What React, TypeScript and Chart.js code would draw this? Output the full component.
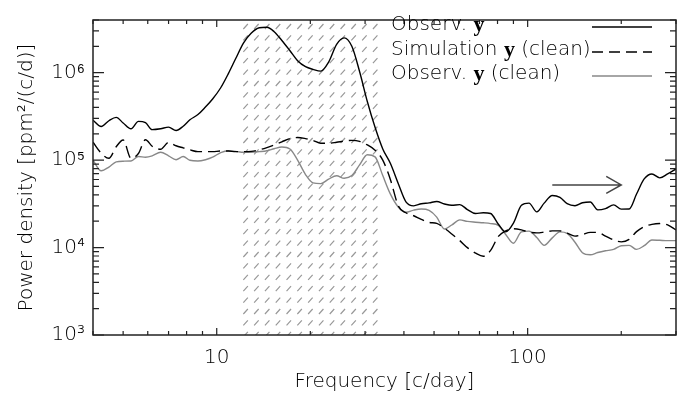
import React, { useEffect, useRef } from 'react';
import { Chart, registerables } from 'chart.js';

Chart.register(...registerables);

// ---- data (frequency in c/day, power density in ppm^2/(c/d)) ----
const frequencies = [
  4, 4.25, 4.5, 4.75, 5, 5.3, 5.6, 5.9, 6.2, 6.6, 7, 7.4, 7.8, 8.2, 8.7, 9.2, 9.7, 10.3, 10.9, 11.5,
  12.2, 12.9, 13.7, 14.5, 15.3, 16.2, 17.2, 18.2, 19.3, 20.4, 21.6, 22.9, 24.3, 25.7, 27.2, 28.8, 30.5,
  32.3, 34.2, 36.2, 38.4, 40.6, 43, 45.5, 48.2, 51, 54, 57, 60.5, 64, 68, 72, 76, 80.5, 85, 90, 95.5,
  101, 107, 113, 120, 127, 134, 142, 150, 159, 168, 178, 189, 200, 212, 224, 237, 251, 266, 282, 300,
];

const observPower = [
  2.86e5, 2.42e5, 2.82e5, 3.08e5, 2.66e5, 2.28e5, 2.77e5, 2.68e5, 2.23e5, 2.28e5, 2.38e5, 2.18e5, 2.44e5,
  2.89e5, 3.32e5, 4.05e5, 4.99e5, 6.72e5, 9.75e5, 1.44e6, 2.19e6, 2.82e6, 3.26e6, 3.31e6, 2.94e6, 2.33e6,
  1.78e6, 1.37e6, 1.17e6, 1.09e6, 1.04e6, 1.32e6, 2.11e6, 2.5e6, 2.0e6, 1.03e6, 4.68e5, 2.37e5, 1.34e5,
  9.13e4, 5.33e4, 3.33e4, 3.0e4, 3.17e4, 3.24e4, 3.36e4, 3.15e4, 3.04e4, 3.1e4, 2.72e4, 2.45e4, 2.5e4,
  2.45e4, 1.85e4, 1.51e4, 1.9e4, 3.04e4, 3.22e4, 2.56e4, 3.22e4, 3.94e4, 3.75e4, 3.17e4, 3.01e4, 3.25e4,
  3.32e4, 2.7e4, 2.79e4, 3.08e4, 2.75e4, 2.76e4, 4.09e4, 6.09e4, 6.94e4, 6.26e4, 6.94e4, 7.93e4,
];

const simCleanPower = [
  1.6e5, 1.2e5, 1.05e5, 1.42e5, 1.7e5, 1.05e5, 1.19e5, 1.71e5, 1.44e5, 1.33e5, 1.59e5, 1.46e5, 1.38e5,
  1.31e5, 1.25e5, 1.25e5, 1.25e5, 1.27e5, 1.27e5, 1.25e5, 1.25e5, 1.26e5, 1.31e5, 1.39e5, 1.49e5, 1.62e5,
  1.76e5, 1.81e5, 1.76e5, 1.68e5, 1.56e5, 1.56e5, 1.6e5, 1.65e5, 1.68e5, 1.64e5, 1.49e5, 1.3e5, 1.0e5,
  5.97e4, 2.98e4, 2.5e4, 2.31e4, 2.1e4, 1.94e4, 1.89e4, 1.66e4, 1.43e4, 1.2e4, 9.97e3, 8.64e3, 7.95e3,
  9.29e3, 1.34e4, 1.55e4, 1.64e4, 1.59e4, 1.5e4, 1.47e4, 1.5e4, 1.55e4, 1.55e4, 1.46e4, 1.35e4, 1.41e4,
  1.49e4, 1.49e4, 1.35e4, 1.22e4, 1.16e4, 1.24e4, 1.52e4, 1.73e4, 1.84e4, 1.88e4, 1.82e4, 1.59e4,
];

const observCleanPower = [
  9.95e4, 7.54e4, 8.32e4, 9.55e4, 9.72e4, 9.77e4, 1.1e5, 1.08e5, 1.12e5, 1.23e5, 1.12e5, 1.01e5, 1.1e5,
  9.95e4, 9.75e4, 1.01e5, 1.08e5, 1.22e5, 1.28e5, 1.26e5, 1.23e5, 1.23e5, 1.25e5, 1.28e5, 1.35e5, 1.41e5,
  1.34e5, 1.0e5, 6.84e4, 5.48e4, 5.38e4, 6.06e4, 6.62e4, 6.2e4, 6.65e4, 8.8e4, 1.15e5, 1.09e5, 6.65e4,
  4.08e4, 2.89e4, 2.53e4, 2.68e4, 2.76e4, 2.66e4, 2.23e4, 1.63e4, 1.81e4, 2.07e4, 1.99e4, 1.95e4, 1.92e4,
  1.88e4, 1.79e4, 1.41e4, 1.12e4, 1.51e4, 1.54e4, 1.3e4, 1.06e4, 1.29e4, 1.51e4, 1.45e4, 1.15e4, 8.73e3,
  8.26e3, 8.77e3, 9.18e3, 9.51e3, 1.05e4, 1.06e4, 9.53e3, 1.05e4, 1.22e4, 1.21e4, 1.2e4, 1.2e4,
];

const xTickValues = [10, 100];
const yTickValues = [1e3, 1e4, 1e5, 1e6];
const xRange = [4, 300];
const yRange = [1e3, 4e6];
const hatchBand = [12, 34];
const arrowFrom = [120, 5.2e4];
const arrowTo = [200, 5.2e4];

const legendItems = [
  { pre: 'Observ. ', bold: 'y', post: '', color: '#000000', dash: [] as number[] },
  { pre: 'Simulation ', bold: 'y', post: ' (clean)', color: '#000000', dash: [11, 6] },
  { pre: 'Observ. ', bold: 'y', post: ' (clean)', color: '#888888', dash: [] as number[] },
];

const SANS = '"DejaVu Sans", sans-serif';
const TEXT_COLOR = '#000000';
const SUP: Record<number, string> = { 3: '\u00B3', 4: '\u2074', 5: '\u2075', 6: '\u2076' };

const decorPlugin = {
  id: 'decor',
  beforeDatasetsDraw(chart: any) {
    const { ctx, chartArea: a, scales } = chart;
    const x = scales.x;
    const x0 = x.getPixelForValue(hatchBand[0]);
    const x1 = x.getPixelForValue(hatchBand[1]);
    ctx.save();
    ctx.beginPath();
    ctx.rect(x0, a.top, x1 - x0, a.bottom - a.top);
    ctx.clip();
    ctx.strokeStyle = '#999999';
    ctx.lineWidth = 1.2;
    ctx.beginPath();
    for (let yy = a.top + 9; yy < a.bottom + 6; yy += 11.4) {
      for (let xx = x0 + 2; xx < x1; xx += 10.8) {
        ctx.moveTo(xx, yy);
        ctx.lineTo(xx + 4.5, yy - 5);
      }
    }
    ctx.stroke();
    ctx.restore();
  },
  afterDatasetsDraw(chart: any) {
    const { ctx, chartArea: a, scales } = chart;
    const x = scales.x;
    const y = scales.y;
    ctx.save();
    // frame
    ctx.strokeStyle = '#222222';
    ctx.lineWidth = 1.5;
    ctx.strokeRect(a.left, a.top, a.right - a.left, a.bottom - a.top);
    // y ticks (left + right), inward
    ctx.lineWidth = 1.2;
    ctx.beginPath();
    for (let e = 3; e <= 6; e++) {
      for (let m = 1; m <= 9; m++) {
        const v = m * Math.pow(10, e);
        if (v < yRange[0] || v > yRange[1]) continue;
        const py = y.getPixelForValue(v);
        const len = m === 1 ? 11 : 6;
        ctx.moveTo(a.left, py);
        ctx.lineTo(a.left + len, py);
        ctx.moveTo(a.right, py);
        ctx.lineTo(a.right - len, py);
      }
    }
    // x ticks (bottom + top), inward
    for (let e = 0; e <= 2; e++) {
      for (let m = 1; m <= 9; m++) {
        const v = m * Math.pow(10, e);
        if (v < xRange[0] || v > xRange[1]) continue;
        const px = x.getPixelForValue(v);
        const len = m === 1 ? 7 : 4;
        ctx.moveTo(px, a.bottom);
        ctx.lineTo(px, a.bottom - len);
        ctx.moveTo(px, a.top);
        ctx.lineTo(px, a.top + len);
      }
    }
    ctx.stroke();

    // arrow
    const ax0 = x.getPixelForValue(arrowFrom[0]);
    const ax1 = x.getPixelForValue(arrowTo[0]);
    const ay = y.getPixelForValue(arrowFrom[1]);
    ctx.strokeStyle = '#444444';
    ctx.lineWidth = 1.5;
    ctx.beginPath();
    ctx.moveTo(ax0, ay);
    ctx.lineTo(ax1, ay);
    ctx.moveTo(ax1 - 15, ay - 8.5);
    ctx.lineTo(ax1, ay);
    ctx.lineTo(ax1 - 15, ay + 8.5);
    ctx.stroke();

    // legend
    const textX = 391;
    const rowsY = [25, 50, 74];
    const lineX0 = 592;
    const lineX1 = 652;
    const sansFont = '200 20px ' + SANS;
    const boldFont = 'bold 22px "Liberation Serif", "DejaVu Serif", serif';
    ctx.textBaseline = 'middle';
    legendItems.forEach((it, i) => {
      const ty = rowsY[i];
      let cx = textX;
      ctx.fillStyle = TEXT_COLOR;
      ctx.font = sansFont;
      ctx.fillText(it.pre, cx, ty);
      cx += ctx.measureText(it.pre).width;
      ctx.font = boldFont;
      ctx.fillText(it.bold, cx, ty);
      cx += ctx.measureText(it.bold).width;
      ctx.font = sansFont;
      if (it.post) ctx.fillText(it.post, cx, ty);
      ctx.strokeStyle = it.color;
      ctx.lineWidth = 1.5;
      ctx.setLineDash(it.dash);
      ctx.beginPath();
      ctx.moveTo(lineX0, ty + 2);
      ctx.lineTo(lineX1, ty + 2);
      ctx.stroke();
      ctx.setLineDash([]);
    });
    ctx.restore();
  },
};

function toPoints(values: number[]) {
  return frequencies.map((f, i) => ({ x: f, y: values[i] }));
}

export default function App() {
  const canvasRef = useRef<HTMLCanvasElement | null>(null);

  useEffect(() => {
    const canvas = canvasRef.current;
    if (!canvas) return;
    const tickFont = { family: SANS, size: 20, weight: 200 as any };
    const chart = new Chart(canvas, {
      type: 'scatter',
      data: {
        datasets: [
          {
            label: 'Observ. y',
            data: toPoints(observPower),
            showLine: true,
            borderColor: '#000000',
            borderWidth: 1.4,
            pointRadius: 0,
            cubicInterpolationMode: 'monotone',
          },
          {
            label: 'Simulation y (clean)',
            data: toPoints(simCleanPower),
            showLine: true,
            borderColor: '#000000',
            borderWidth: 1.4,
            borderDash: [12, 6],
            pointRadius: 0,
            cubicInterpolationMode: 'monotone',
          },
          {
            label: 'Observ. y (clean)',
            data: toPoints(observCleanPower),
            showLine: true,
            borderColor: '#888888',
            borderWidth: 1.4,
            pointRadius: 0,
            cubicInterpolationMode: 'monotone',
          },
        ],
      },
      options: {
        responsive: false,
        animation: false,
        layout: { padding: { top: 4, right: 17, left: 0, bottom: 0 } },
        plugins: { legend: { display: false }, tooltip: { enabled: false } },
        scales: {
          x: {
            type: 'logarithmic',
            min: xRange[0],
            max: xRange[1],
            afterBuildTicks: (s: any) => {
              s.ticks = xTickValues.map((v) => ({ value: v }));
            },
            afterFit: (s: any) => {
              s.height = 66;
            },
            ticks: {
              callback: (v: any) => String(v),
              font: tickFont,
              color: TEXT_COLOR,
              padding: 11,
              maxRotation: 0,
              autoSkip: false,
            },
            grid: { display: false, drawTicks: false },
            border: { display: false },
            title: {
              display: true,
              text: 'Frequency [c/day]',
              font: tickFont,
              color: TEXT_COLOR,
              padding: { top: 0, bottom: 7 },
            },
          },
          y: {
            type: 'logarithmic',
            min: yRange[0],
            max: yRange[1],
            afterBuildTicks: (s: any) => {
              s.ticks = yTickValues.map((v) => ({ value: v }));
            },
            afterFit: (s: any) => {
              s.width = 93;
            },
            ticks: {
              callback: (v: any) => '10' + SUP[Math.round(Math.log10(Number(v)))],
              font: tickFont,
              color: TEXT_COLOR,
              padding: 8,
              autoSkip: false,
            },
            grid: { display: false, drawTicks: false },
            border: { display: false },
            title: {
              display: true,
              text: 'Power density [ppm\u00B2/(c/d)]',
              font: tickFont,
              color: TEXT_COLOR,
              padding: { top: 15, bottom: 0 },
            },
          },
        },
      },
      plugins: [decorPlugin],
    });
    return () => chart.destroy();
  }, []);

  return (
    <div style={{ position: 'absolute', left: 0, top: 0, width: 693, height: 401, background: '#ffffff' }}>
      <canvas ref={canvasRef} width={693} height={401} style={{ display: 'block' }} />
    </div>
  );
}
